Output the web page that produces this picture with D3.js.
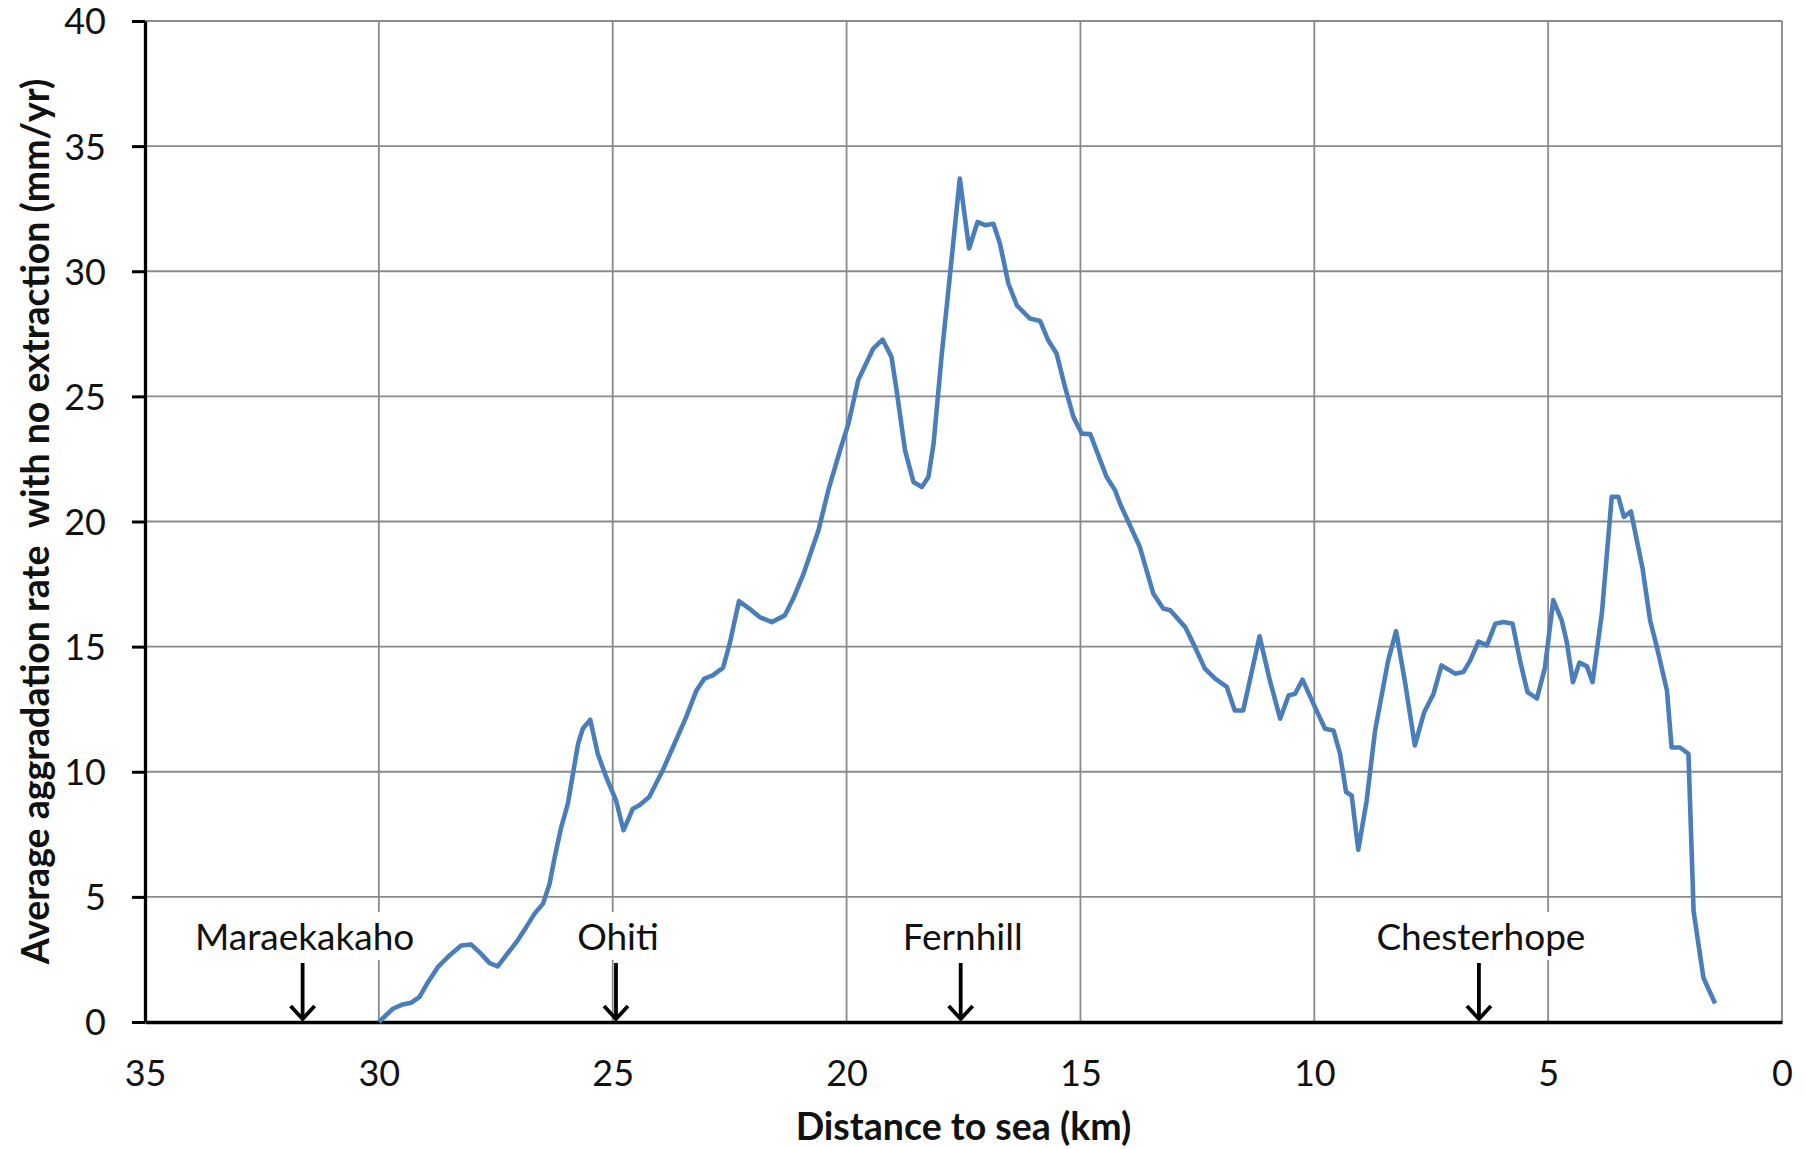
<!DOCTYPE html>
<html>
<head>
<meta charset="utf-8">
<script src="https://cdn.jsdelivr.net/npm/d3@7"></script>
<style>
    body { margin: 0; background-color: white; }
</style>
</head>
<body>
<div id="viz-container"></div>
<script>
// values
// distance to sea (km), going from upstream towards the sea
let distances = [
    30.00, 29.70, 29.49, 29.31, 29.13, 28.95, 28.74, 28.49, 28.24, 28.03,
    27.85, 27.63, 27.46, 27.28, 27.06, 26.85, 26.67, 26.49, 26.35, 26.24,
    26.10, 25.96, 25.85, 25.74, 25.64, 25.48, 25.32, 25.14, 24.93, 24.77,
    24.57, 24.43, 24.22, 23.93, 23.71, 23.43, 23.21, 23.04, 22.86, 22.64,
    22.50, 22.30, 22.08, 21.86, 21.60, 21.32, 21.14, 20.92, 20.60, 20.39,
    20.14, 19.96, 19.75, 19.43, 19.23, 19.04, 18.93, 18.75, 18.57, 18.39,
    18.25, 18.14, 17.97, 17.75, 17.58, 17.38, 17.20, 17.04, 16.86, 16.72,
    16.54, 16.36, 16.08, 15.86, 15.69, 15.51, 15.33, 15.15, 14.97, 14.79,
    14.44, 14.26, 14.15, 13.73, 13.44, 13.23, 13.08, 12.76, 12.55, 12.34,
    12.12, 11.87, 11.70, 11.52, 11.17, 10.95, 10.73, 10.55, 10.41, 10.25,
    10.02, 9.77, 9.59, 9.45, 9.32, 9.20, 9.06, 8.88, 8.70, 8.42,
    8.25, 8.06, 7.85, 7.65, 7.45, 7.28, 6.99, 6.81, 6.67, 6.49,
    6.31, 6.13, 5.96, 5.76, 5.60, 5.44, 5.24, 5.07, 4.89, 4.71,
    4.60, 4.47, 4.33, 4.17, 4.05, 3.85, 3.64, 3.50, 3.38, 3.23,
    2.98, 2.82, 2.68, 2.46, 2.36, 2.18, 2.00, 1.89, 1.68, 1.43
];
// average aggradation rate with no extraction (mm/yr)
let rates = [
    0.00, 0.53, 0.70, 0.77, 1.00, 1.59, 2.19, 2.66, 3.06, 3.10,
    2.79, 2.35, 2.22, 2.66, 3.19, 3.79, 4.33, 4.73, 5.52, 6.59,
    7.79, 8.72, 9.92, 11.12, 11.72, 12.08, 10.72, 9.79, 8.86, 7.66,
    8.52, 8.66, 8.99, 10.06, 10.99, 12.18, 13.25, 13.72, 13.85, 14.16,
    15.11, 16.82, 16.52, 16.18, 15.98, 16.25, 16.92, 17.91, 19.65, 21.25,
    22.84, 23.91, 25.65, 26.91, 27.27, 26.58, 25.24, 22.84, 21.58, 21.38,
    21.78, 23.11, 26.58, 30.57, 33.70, 30.91, 31.97, 31.84, 31.90, 31.10,
    29.51, 28.64, 28.11, 28.01, 27.24, 26.71, 25.38, 24.18, 23.51, 23.49,
    21.78, 21.25, 20.70, 18.98, 17.11, 16.52, 16.45, 15.78, 14.98, 14.12,
    13.72, 13.39, 12.45, 12.45, 15.41, 13.65, 12.12, 13.05, 13.12, 13.68,
    12.72, 11.72, 11.65, 10.72, 9.19, 9.05, 6.88, 8.85, 11.65, 14.45,
    15.62, 13.58, 11.05, 12.38, 13.12, 14.25, 13.92, 13.99, 14.43, 15.20,
    15.05, 15.91, 15.98, 15.91, 14.43, 13.18, 12.93, 14.14, 16.86, 16.05,
    15.17, 13.58, 14.36, 14.21, 13.58, 16.35, 20.99, 20.99, 20.18, 20.40,
    18.11, 16.05, 15.02, 13.25, 10.97, 10.97, 10.72, 4.42, 1.77, 0.74
];

let xTicks = [35, 30, 25, 20, 15, 10, 5, 0];
let yTicks = [0, 5, 10, 15, 20, 25, 30, 35, 40];

// places marked with arrows along the river
let placeNames = ["Maraekakaho", "Ohiti", "Fernhill", "Chesterhope"];
let placeDistances = [31.63, 24.93, 17.56, 6.48];

let svgWidth = 1806;
let svgHeight = 1149;
let plotLeft = 145, plotRight = 1782, plotTop = 21, plotBottom = 1022;
let fontFamily = "Lato, 'Open Sans', sans-serif";

let viz = d3.select("#viz-container")
                .append("svg")
                    .attr("id", "viz")
                    .attr("width", svgWidth)
                    .attr("height", svgHeight)
                    .style("background-color", "white")
;

let xScale = d3.scaleLinear().domain([35, 0]).range([plotLeft, plotRight]);
let yScale = d3.scaleLinear().domain([0, 40]).range([plotBottom, plotTop]);

// gridlines
viz.append("g").selectAll("line").data(xTicks.filter(d => d != 35)).enter().append("line")
    .attr("x1", d => xScale(d))
    .attr("x2", d => xScale(d))
    .attr("y1", plotTop)
    .attr("y2", plotBottom)
    .attr("stroke", "#8a8a8a")
    .attr("stroke-width", 1.8)
;
viz.append("g").selectAll("line").data(yTicks.filter(d => d != 0)).enter().append("line")
    .attr("x1", plotLeft)
    .attr("x2", plotRight)
    .attr("y1", d => yScale(d))
    .attr("y2", d => yScale(d))
    .attr("stroke", "#8a8a8a")
    .attr("stroke-width", 1.8)
;

// place labels sit in white boxes that hide the gridlines
let places = placeNames.map((name, i) => ({name: name, km: placeDistances[i]}));
let placeGroups = viz.selectAll(".place").data(places).enter().append("g")
                        .attr("class", "place")
;
let boxes = placeGroups.append("rect")
                .attr("fill", "white")
;
let labels = placeGroups.append("text")
                .text(d => d.name)
                .attr("x", d => xScale(d.km) + 2)
                .attr("y", 950)
                .attr("text-anchor", "middle")
                .style("font-family", fontFamily)
                .style("font-size", "37px")
                .attr("fill", "#111")
;
labels.each(function(d){
    let b = this.getBBox();
    d.bx = b.x - 8;
    d.bw = b.width + 16;
});
boxes
    .attr("x", d => d.bx)
    .attr("width", d => d.bw)
    .attr("y", 912)
    .attr("height", 48)
;

// axes
let yAxis = d3.axisLeft(yScale).tickValues(yTicks).tickSize(13).tickSizeOuter(0).tickPadding(26);
let yAxisGroup = viz.append("g")
                    .attr("transform", "translate(" + plotLeft + ",0)")
                    .call(yAxis)
;
let xAxis = d3.axisBottom(xScale).tickValues(xTicks).tickSize(0).tickSizeOuter(0).tickPadding(38);
let xAxisGroup = viz.append("g")
                    .attr("transform", "translate(0," + plotBottom + ")")
                    .call(xAxis)
;
[yAxisGroup, xAxisGroup].forEach(function(g){
    g.select(".domain").attr("stroke", "black").attr("stroke-width", 3.3);
    g.selectAll(".tick line").attr("stroke", "black").attr("stroke-width", 3);
    g.selectAll(".tick text")
        .style("font-family", fontFamily)
        .style("font-size", "36px")
        .attr("fill", "#111")
    ;
});
yAxisGroup.selectAll(".tick text").attr("dy", "0.36em");

// the series
let points = distances.map((km, i) => ({km: km, rate: rates[i]}));
let line = d3.line()
                .x(d => xScale(d.km))
                .y(d => yScale(d.rate))
;
viz.append("path")
    .datum(points)
    .attr("d", line)
    .attr("fill", "none")
    .attr("stroke", "#4a7ebb")
    .attr("stroke-width", 4.6)
    .attr("stroke-linejoin", "round")
;

// arrows pointing down at the places
placeGroups.append("line")
    .attr("x1", d => xScale(d.km))
    .attr("x2", d => xScale(d.km))
    .attr("y1", 963)
    .attr("y2", 1019)
    .attr("stroke", "black")
    .attr("stroke-width", 3.8)
;
placeGroups.append("path")
    .attr("d", function(d){
        let x = xScale(d.km);
        return "M" + (x - 12) + ",1006 L" + x + ",1019 L" + (x + 12) + ",1006";
    })
    .attr("fill", "none")
    .attr("stroke", "black")
    .attr("stroke-width", 3.8)
;

// axis titles
viz.append("text")
    .text("Distance to sea (km)")
    .attr("x", (plotLeft + plotRight) / 2)
    .attr("y", 1140)
    .attr("text-anchor", "middle")
    .style("font-family", fontFamily)
    .style("font-size", "37.5px")
    .style("font-weight", "bold")
    .attr("fill", "#111")
;
viz.append("text")
    .text("Average aggradation rate\u00a0 with no extraction (mm/yr)")
    .attr("transform", "translate(49," + ((plotTop + plotBottom) / 2) + ") rotate(-90)")
    .attr("text-anchor", "middle")
    .style("font-family", fontFamily)
    .style("font-size", "37.5px")
    .style("font-weight", "bold")
    .attr("fill", "#111")
;
</script>
</body>
</html>
